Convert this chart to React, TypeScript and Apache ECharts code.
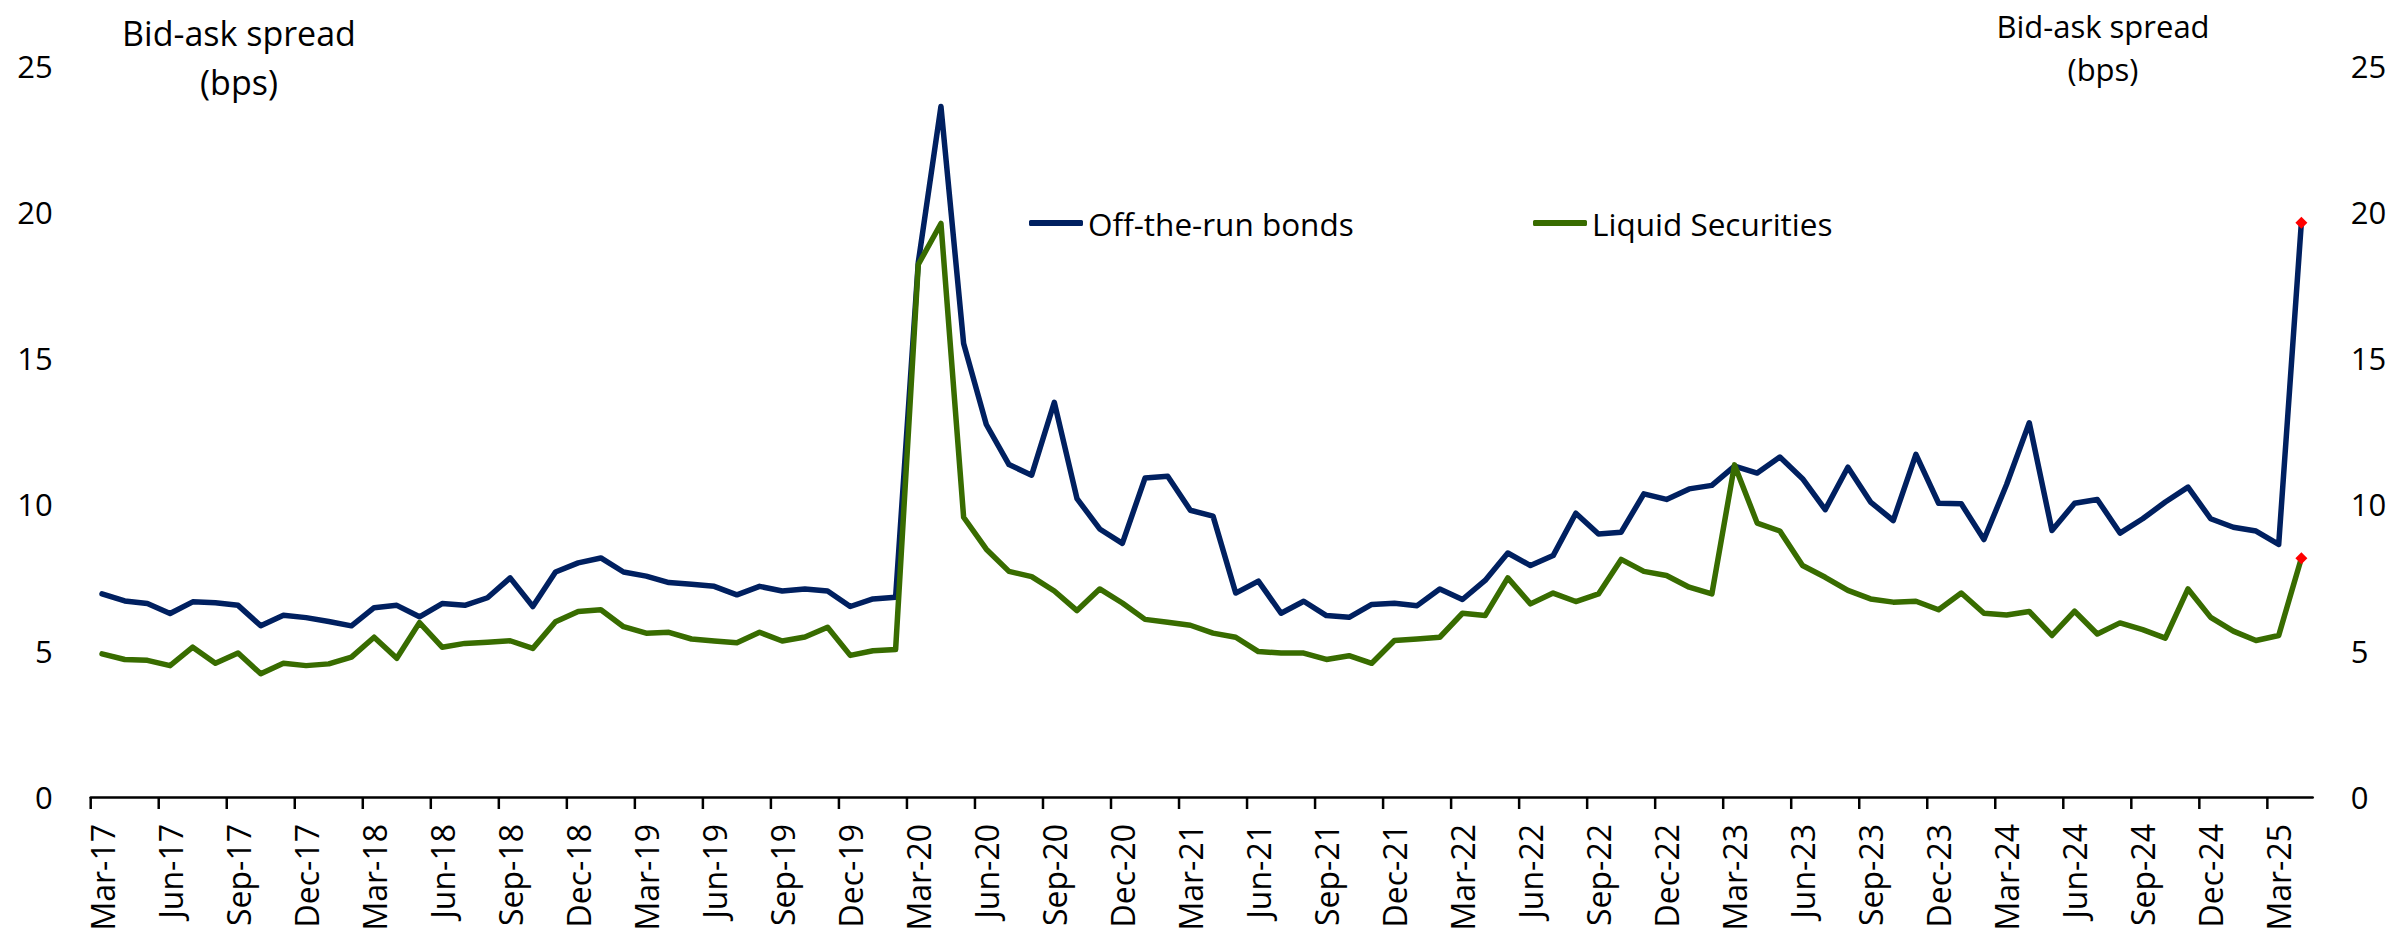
import React, { useEffect, useRef } from "react";
import * as echarts from "echarts";

// ---------- data ----------
const MONTH_NAMES = ["Jan", "Feb", "Mar", "Apr", "May", "Jun", "Jul", "Aug", "Sep", "Oct", "Nov", "Dec"];
const START_YEAR = 2017;
const START_MONTH = 2; // March
const N_MONTHS = 98; // Mar-17 .. Apr-25

const categories: string[] = Array.from({ length: N_MONTHS }, (_, i) => {
  const m = (START_MONTH + i) % 12;
  const y = START_YEAR + Math.floor((START_MONTH + i) / 12);
  return `${MONTH_NAMES[m]}-${String(y).slice(2)}`;
});

const offTheRunBonds = [
  6.94, 6.7, 6.61, 6.27, 6.67, 6.64, 6.55, 5.85, 6.21, 6.13, 6.0, 5.85,
  6.47, 6.55, 6.16, 6.61, 6.55, 6.81, 7.49, 6.51, 7.69, 8.0, 8.17, 7.69,
  7.55, 7.33, 7.27, 7.2, 6.91, 7.2, 7.04, 7.11, 7.04, 6.51, 6.77, 6.83,
  18.27, 23.6, 15.5, 12.73, 11.36, 11.0, 13.49, 10.2, 9.16, 8.67, 10.9, 10.96,
  9.8, 9.6, 6.97, 7.38, 6.28, 6.69, 6.2, 6.14, 6.58, 6.62, 6.54, 7.11,
  6.75, 7.4, 8.34, 7.91, 8.25, 9.7, 8.99, 9.05, 10.36, 10.17, 10.53, 10.65,
  11.31, 11.07, 11.62, 10.88, 9.82, 11.27, 10.08, 9.45, 11.71, 10.04, 10.02, 8.8,
  10.68, 12.79, 9.11, 10.04, 10.17, 9.02, 9.51, 10.08, 10.59, 9.51, 9.22, 9.09,
  8.63, 19.63,
];

const liquidSecurities = [
  4.89, 4.7, 4.67, 4.49, 5.12, 4.57, 4.92, 4.21, 4.57, 4.49, 4.55, 4.78,
  5.46, 4.74, 5.96, 5.12, 5.25, 5.29, 5.34, 5.08, 5.99, 6.34, 6.4, 5.82,
  5.6, 5.63, 5.4, 5.33, 5.27, 5.63, 5.33, 5.47, 5.8, 4.84, 5.0, 5.04,
  18.2, 19.6, 9.56, 8.47, 7.71, 7.53, 7.04, 6.37, 7.11, 6.63, 6.07, 5.97,
  5.87, 5.6, 5.46, 4.97, 4.92, 4.92, 4.7, 4.83, 4.57, 5.35, 5.4, 5.46,
  6.28, 6.2, 7.49, 6.6, 6.97, 6.68, 6.94, 8.12, 7.71, 7.57, 7.17, 6.94,
  11.35, 9.36, 9.09, 7.91, 7.51, 7.06, 6.77, 6.66, 6.69, 6.4, 6.97, 6.28,
  6.22, 6.34, 5.52, 6.35, 5.57, 5.95, 5.72, 5.43, 7.11, 6.14, 5.67, 5.35,
  5.52, 8.16,
];

const Y_MIN = 0;
const Y_MAX = 25;
const Y_STEP = 5;
const LABEL_EVERY = 3;

const SERIES_NAMES = ["Off-the-run bonds", "Liquid Securities"];
const AXIS_TITLE = "Bid-ask spread\n(bps)";

// ---------- styles ----------
const BLUE = "#002060";
const GREEN = "#386C00";
const RED = "#FF0000";
const FONT = "Open Sans";

const withLastMarker = (arr: number[]) =>
  arr.map((v, i) =>
    i === arr.length - 1
      ? { value: v, symbol: "diamond", symbolSize: 12, itemStyle: { color: RED } }
      : v
  );

const tickData = categories
  .map((_, i) => i)
  .filter((i) => i % LABEL_EVERY === 0)
  .map((i) => [i, 0]);

export default function App() {
  const ref = useRef<HTMLDivElement>(null);

  useEffect(() => {
    if (!ref.current) return;
    const chart = echarts.init(ref.current, undefined, { renderer: "svg" });

    const yAxisBase = {
      type: "value",
      min: Y_MIN,
      max: Y_MAX,
      interval: Y_STEP,
      axisLine: { show: false },
      axisTick: { show: false },
      splitLine: { show: false },
      axisLabel: { color: "#000", fontSize: 31, fontFamily: FONT, margin: 38 },
    };

    const option: any = {
      animation: false,
      backgroundColor: "#fff",
      textStyle: { fontFamily: FONT },
      title: [
        {
          text: AXIS_TITLE,
          left: 239,
          top: 8,
          padding: 0,
          textAlign: "center",
          textStyle: { fontSize: 34, fontWeight: "normal", color: "#000", lineHeight: 49, fontFamily: FONT },
        },
        {
          text: AXIS_TITLE,
          left: 2103,
          top: 4,
          padding: 0,
          textAlign: "center",
          textStyle: { fontSize: 31, fontWeight: "normal", color: "#000", lineHeight: 43, fontFamily: FONT },
        },
      ],
      legend: [
        {
          data: [SERIES_NAMES[0]],
          left: 1029,
          top: 203,
          padding: 0,
          icon: "roundRect",
          itemWidth: 54,
          itemHeight: 6,
          itemStyle: { borderWidth: 0 },
          textStyle: { fontSize: 31.5, color: "#000", fontFamily: FONT, lineHeight: 40 },
          selectedMode: false,
        },
        {
          data: [SERIES_NAMES[1]],
          left: 1533,
          top: 203,
          padding: 0,
          icon: "roundRect",
          itemWidth: 54,
          itemHeight: 6,
          itemStyle: { borderWidth: 0 },
          textStyle: { fontSize: 31.5, color: "#000", fontFamily: FONT, lineHeight: 40 },
          selectedMode: false,
        },
      ],
      grid: {
        left: 90.7,
        right: 76.3,
        top: 65.5,
        bottom: 139,
        containLabel: false,
        outerBoundsMode: "none",
      },
      xAxis: {
        type: "category",
        data: categories,
        boundaryGap: true,
        axisLine: { show: true, lineStyle: { color: "#000", width: 2.5 } },
        axisTick: { show: false },
        splitLine: { show: false },
        axisLabel: {
          interval: LABEL_EVERY - 1,
          rotate: 90,
          color: "#000",
          fontSize: 32,
          fontFamily: FONT,
          margin: 27,
        },
      },
      yAxis: [
        { ...yAxisBase, position: "left" },
        { ...yAxisBase, position: "right" },
      ],
      series: [
        {
          name: SERIES_NAMES[0],
          type: "line",
          data: withLastMarker(offTheRunBonds),
          yAxisIndex: 0,
          symbol: "none",
          color: BLUE,
          itemStyle: { color: BLUE },
          lineStyle: { color: BLUE, width: 5.5, cap: "round", join: "round" },
          z: 3,
        },
        {
          name: SERIES_NAMES[1],
          type: "line",
          data: withLastMarker(liquidSecurities),
          yAxisIndex: 0,
          symbol: "none",
          color: GREEN,
          itemStyle: { color: GREEN },
          lineStyle: { color: GREEN, width: 5.5, cap: "round", join: "round" },
          z: 4,
        },
        {
          name: "ticks",
          type: "custom",
          data: tickData,
          encode: { x: 0, y: 1 },
          silent: true,
          clip: false,
          renderItem: (_params: any, api: any) => {
            const idx = api.value(0);
            const pt = api.coord([idx, 0]);
            const bw = api.size([1, 0])[0];
            const x = pt[0] - bw / 2;
            return {
              type: "line",
              shape: { x1: x, y1: pt[1], x2: x, y2: pt[1] + 12 },
              style: { stroke: "#000", lineWidth: 2.5 },
            };
          },
        },
      ],
    };

    chart.setOption(option);
    return () => chart.dispose();
  }, []);

  return (
    <div
      ref={ref}
      style={{ position: "fixed", left: 0, top: 0, width: 2389, height: 936, background: "#fff" }}
    />
  );
}
